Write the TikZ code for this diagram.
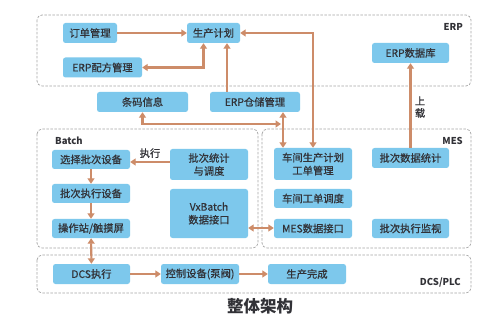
\documentclass[tikz,border=0pt]{standalone}
\usepackage{fontspec}
\setmainfont{Noto Sans CJK SC}
\newfontfamily\boxfont{Noto Sans CJK SC}[FakeBold=0.7]
\usetikzlibrary{arrows.meta}
\definecolor{boxc}{RGB}{125,200,236}
\definecolor{arr}{RGB}{205,140,105}
\definecolor{txt}{RGB}{50,50,55}
\definecolor{dashc}{RGB}{165,165,165}
\begin{document}
\begin{tikzpicture}[x=1pt,y=-1pt,
 box/.style={fill=boxc, rounded corners=2.5pt, text=txt, font=\boxfont\fontsize{10.3}{13}\selectfont, inner sep=0pt, align=center},
 conn/.style={draw=arr, line width=2.1pt, -{Triangle[width=7pt,length=5.5pt]}},
 both/.style={draw=arr, line width=2.1pt, {Triangle[width=7pt,length=5.5pt]}-{Triangle[width=7pt,length=5.5pt]}},
 grp/.style={draw=dashc, dash pattern=on 2.5pt off 1.5pt, rounded corners=5pt, line width=0.7pt},
 glabel/.style={font=\bfseries\fontsize{9.5}{10}\selectfont, text=txt, inner sep=0pt},
 elabel/.style={font=\boxfont\fontsize{10.3}{12}\selectfont, text=txt, inner sep=0pt, align=center}]
\useasboundingbox[fill=white] (0,0) rectangle (500,320);

% groups
\draw[grp] (37,15) rectangle (471,86);
\draw[grp] (37,129) rectangle (258,248);
\draw[grp] (262,129) rectangle (471,248);
\draw[grp] (37,255) rectangle (471,293);
\node[glabel, anchor=east] (lerp) at (463,27) {ERP};
\node[glabel, anchor=east] (lmes) at (463,141) {MES};
\node[glabel, anchor=west] (lbatch) at (55,141) {Batch};
\node[glabel, anchor=east] (ldcs) at (461,283) {DCS/PLC};

% ERP boxes
\node[box, minimum width=54pt, minimum height=20pt] (order) at (90,33) {订单管理};
\node[box, minimum width=53pt, minimum height=20pt] (plan) at (213.5,33) {生产计划};
\node[box, minimum width=79pt, minimum height=20pt] (recipe) at (102.5,67.5) {ERP配方管理};
\node[box, minimum width=77pt, minimum height=20pt] (erpdb) at (410.5,53) {ERP数据库};
\node[box, minimum width=91pt, minimum height=20pt] (barcode) at (142.5,102) {条码信息};
\node[box, minimum width=90pt, minimum height=20pt] (wms) at (255,102) {ERP仓储管理};

% Batch boxes
\node[box, minimum width=78pt, minimum height=19pt] (select) at (91,159.5) {选择批次设备};
\node[box, minimum width=78pt, minimum height=19pt] (exec) at (91,193.5) {批次执行设备};
\node[box, minimum width=78pt, minimum height=19pt] (op) at (91,228.5) {操作站/触摸屏};
\node[box, minimum width=78pt, minimum height=31pt] (bsched) at (209,164.5) {批次统计\\与调度};
\node[box, minimum width=78pt, minimum height=49pt] (vx) at (209,213.5) {VxBatch\\数据接口};

% MES boxes
\node[box, minimum width=78pt, minimum height=32pt] (shop) at (313,164) {车间生产计划\\工单管理};
\node[box, minimum width=78pt, minimum height=19pt] (disp) at (313,198.5) {车间工单调度};
\node[box, minimum width=78pt, minimum height=19pt] (mesif) at (313,228.5) {MES数据接口};
\node[box, minimum width=77pt, minimum height=20pt] (bstat) at (410.5,158) {批次数据统计};
\node[box, minimum width=77pt, minimum height=19pt] (bmon) at (410.5,228.5) {批次执行监视};

% DCS boxes
\node[box, minimum width=77pt, minimum height=20pt] (dcs) at (91.5,274) {DCS执行};
\node[box, minimum width=78pt, minimum height=20pt] (ctrl) at (200,274) {控制设备(泵阀)};
\node[box, minimum width=78pt, minimum height=20pt] (done) at (307,274) {生产完成};

% title
\node[font=\bfseries\fontsize{16.5}{18}\selectfont, text=txt] (title) at (260,306) {整体架构};

% connectors ERP
\draw[conn] (order) -- (plan);
\draw[both] (recipe.east) -| ([xshift=-10pt]plan.south);
\draw[conn] (wms.north -| 227,0) -- (plan.south -| 227,0);
\draw[both] (plan.east) -| (shop.north);
\coordinate (jn) at (281,124);
\draw[both] (wms.south -| 283,0) -- (shop.north -| 283,0);
\draw[both] (barcode.south) |- (jn);
\draw[conn] (bstat.north) -- (erpdb.south);
\node[elabel] (up) at (420,107) {上\\载};

% Batch
\draw[conn] (bsched.west |- 0,162) -- (select.east |- 0,162) node[midway, above=3pt, elabel] (exlab) {执行};
\draw[conn] (select) -- (exec);
\draw[conn] (exec) -- (op);
\draw[both] (op) -- (dcs);
\draw[both] (vx.east |- 0,228) -- (mesif.west |- 0,228);

% DCS
\draw[conn] (dcs) -- (ctrl);
\draw[conn] (ctrl) -- (done);
\end{tikzpicture}
\end{document}
